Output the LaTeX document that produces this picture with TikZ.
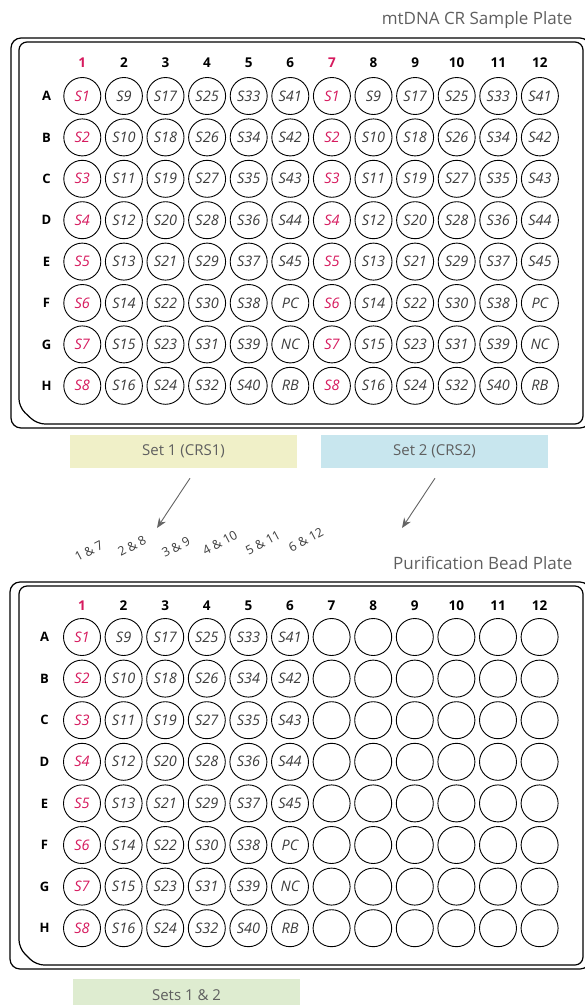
\documentclass[tikz,border=0pt]{standalone}
\usepackage{fontspec}
\setmainfont{Open Sans}
\usepackage{xcolor}
\usetikzlibrary{arrows.meta}

\definecolor{crimson}{RGB}{214,26,94}
\definecolor{welltxt}{RGB}{60,60,60}
\definecolor{lbl}{RGB}{95,95,95}
\definecolor{arrgray}{RGB}{100,100,100}
\definecolor{set1fill}{RGB}{240,240,200}
\definecolor{set2fill}{RGB}{200,230,238}
\definecolor{set3fill}{RGB}{222,236,208}

\begin{document}
\begin{tikzpicture}[x=1pt, y=-1pt,
    well/.style={circle, draw, line width=0.9pt, minimum size=37pt, inner sep=0pt,
                 font=\fontsize{14.5}{16}\selectfont\itshape},
    colnum/.style={font=\fontsize{13.5}{15}\selectfont\bfseries},
    rowlet/.style={font=\fontsize{13}{15}\selectfont\bfseries},
    title/.style={anchor=east, font=\fontsize{17}{20}\selectfont, text=lbl},
    setbox/.style={minimum width=227pt, minimum height=33pt, inner sep=0pt,
                   font=\fontsize{15}{17}\selectfont, text=lbl},
    pair/.style={rotate=28, inner sep=0pt, font=\fontsize{12.5}{14}\selectfont, text=welltxt},
    arr/.style={-{Stealth[length=10pt,width=8pt]}, line width=0.9pt, draw=arrgray},
    plate/.style={line width=1.2pt}
]
\useasboundingbox (0,0) rectangle (585,1005);
\clip (0,0) rectangle (585,1005);

% sample plate
\node[title] (t1) at (576,20) {mtDNA CR Sample Plate};
\draw[plate, rounded corners=10pt] (11,38) rectangle (590,428);
\draw[plate, rounded corners=8pt] (19,407) -- (19,42) -- (583,42) -- (583,424) -- (37,424) -- cycle;
\foreach \c in {1,...,12} {
  \ifnum\c=1 \def\wcol{crimson}\else\ifnum\c=7 \def\wcol{crimson}\else\def\wcol{black}\fi\fi
  \node[colnum, text=\wcol] (sa-c\c) at ({82.3+(\c-1)*41.6},63) {\c};
}
\foreach \r [count=\i] in {A,B,C,D,E,F,G,H} {
  \node[rowlet] (sa-\r) at (46.5,{96+(\i-1)*41.4}) {\r};
  \foreach \c in {1,...,12} {
    \pgfmathtruncatemacro\k{mod(\c-1,6)}
    \pgfmathtruncatemacro\n{\k*8+\i}
    \ifnum\k=0 \def\wcol{crimson}\else\def\wcol{welltxt}\fi
    \node[well, text=\wcol] (sa-\r\c) at ({82.3+(\c-1)*41.6},{96+(\i-1)*41.4})
      {\ifnum\n>45 \ifcase\numexpr\n-46\relax PC\or NC\or RB\fi\else S\n\fi};
  }
}

\node[setbox, fill=set1fill] (set1) at (183.5,451.5) {Set 1 (CRS1)};
\node[setbox, fill=set2fill] (set2) at (434.5,451.5) {Set 2 (CRS2)};
\coordinate (tip1) at (157,528);
\coordinate (tip2) at (402,528);
\draw[arr] ([xshift=6.5pt,yshift=-10pt]set1.south) -- (tip1);
\draw[arr] ([xshift=0.5pt,yshift=-10pt]set2.south) -- (tip2);

\node[pair] (m1) at (89,551) {1 \& 7};
\node[pair] (m2) at (132,546) {2 \& 8};
\node[pair] (m3) at (176,547) {3 \& 9};
\node[pair] (m4) at (220,543) {4 \& 10};
\node[pair] (m5) at (263,543) {5 \& 11};
\node[pair] (m6) at (306,540) {6 \& 12};

% bead plate
\node[title] (t2) at (576,563) {Purification Bead Plate};
\draw[plate, rounded corners=10pt] (10,582) rectangle (590,969);
\draw[plate, rounded corners=8pt] (19,948) -- (19,586) -- (583,586) -- (583,965) -- (36,965) -- cycle;
\foreach \c in {1,...,12} {
  \ifnum\c=1 \def\wcol{crimson}\else\def\wcol{black}\fi
  \node[colnum, text=\wcol] (bd-c\c) at ({82+(\c-1)*41.6},606) {\c};
}
\foreach \r [count=\i] in {A,B,C,D,E,F,G,H} {
  \node[rowlet] (bd-\r) at (44.5,{637+(\i-1)*41.6}) {\r};
  \foreach \c in {1,...,12} {
    \pgfmathtruncatemacro\n{(\c-1)*8+\i}
    \ifnum\c=1 \def\wcol{crimson}\else\def\wcol{welltxt}\fi
    \node[well, text=\wcol] (bd-\r\c) at ({82+(\c-1)*41.6},{637+(\i-1)*41.6})
      {\ifnum\c>6 \else\ifnum\n>45 \ifcase\numexpr\n-46\relax PC\or NC\or RB\fi\else S\n\fi\fi};
  }
}

\node[setbox, fill=set3fill] (set3) at (186.5,995) {Sets 1 \& 2};
\end{tikzpicture}
\end{document}
